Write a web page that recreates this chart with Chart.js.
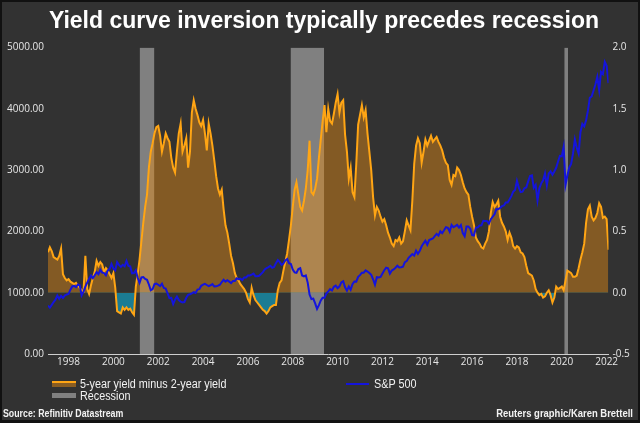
<!DOCTYPE html>
<html>
<head>
<meta charset="utf-8">
<script src="https://cdn.jsdelivr.net/npm/chart.js@4.4.1/dist/chart.umd.min.js"></script>
<style>
  html, body { margin: 0; padding: 0; }
  body { width: 640px; height: 423px; background: #323232; position: relative; overflow: hidden; color: #fff; font-family: "Liberation Sans", Arial, sans-serif; }
  canvas { position: absolute; left: 0; top: 0; }
  #frame { position: absolute; left: 0; top: 0; width: 640px; height: 423px; box-sizing: border-box; border: solid #111; border-width: 2px 2px 3px 2px; pointer-events: none; }
  .title { position: absolute; left: 4px; width: 640px; top: 9px; text-align: center; font-weight: bold; font-size: 23px; line-height: 23px; white-space: nowrap; }
  .leg { position: absolute; font-size: 12px; line-height: 12px; white-space: nowrap; color: #f2f2f2; transform: scaleX(0.9); transform-origin: left center; }
  .sw { position: absolute; }
  .foot { position: absolute; top: 408px; font-weight: bold; font-size: 11px; line-height: 11px; white-space: nowrap; color: #f2f2f2; }
</style>
</head>
<body>
<canvas id="chart" width="640" height="423"></canvas>
<div class="title">Yield curve inversion typically precedes recession</div>
<div class="sw" style="left:52px;top:381px;width:24px;height:4px;border-top:2px solid #ffa514;background:#8a5d22;"></div>
<div class="leg" style="left:80px;top:378px;">5-year yield minus 2-year yield</div>
<div class="sw" style="left:52px;top:393px;width:24px;height:5px;background:#808080;"></div>
<div class="leg" style="left:80px;top:390px;">Recession</div>
<div class="sw" style="left:346px;top:383px;width:23px;height:2px;background:#1414dc;"></div>
<div class="leg" style="left:374px;top:378px;">S&amp;P 500</div>
<div class="foot" style="left:3px;transform:scaleX(0.8);transform-origin:left center;">Source: Refinitiv Datastream</div>
<div class="foot" style="right:7px;transform:scaleX(0.86);transform-origin:right center;">Reuters graphic/Karen Brettell</div>
<div id="frame"></div>
<script>
// monthly series, first value = Feb 1997
const firstMonth = 1997 + 1 / 12;

const spx = [
  790, 757, 801, 848, 885, 954, 899, 947, 915, 955, 970,
  980, 1049, 1102, 1112, 1091, 1134, 1121, 957, 1017, 1099, 1164, 1229,
  1280, 1238, 1286, 1335, 1302, 1373, 1329, 1320, 1283, 1363, 1389, 1469,
  1394, 1366, 1499, 1452, 1421, 1455, 1431, 1518, 1437, 1429, 1315, 1320,
  1366, 1240, 1160, 1249, 1256, 1224, 1211, 1134, 1041, 1060, 1139, 1148,
  1130, 1107, 1147, 1076, 1067, 990, 912, 916, 815, 886, 936, 880,
  856, 841, 848, 917, 964, 975, 990, 1008, 996, 1051, 1058, 1112,
  1131, 1145, 1126, 1107, 1121, 1141, 1102, 1104, 1115, 1130, 1174, 1212,
  1181, 1204, 1181, 1157, 1192, 1191, 1234, 1220, 1229, 1207, 1249, 1248,
  1280, 1281, 1295, 1311, 1270, 1270, 1277, 1304, 1336, 1378, 1401, 1418,
  1438, 1407, 1421, 1482, 1531, 1503, 1455, 1474, 1527, 1549, 1481, 1468,
  1379, 1331, 1323, 1386, 1400, 1280, 1267, 1283, 1165, 969, 896, 903,
  826, 735, 798, 873, 919, 919, 987, 1021, 1057, 1036, 1096, 1115,
  1074, 1104, 1169, 1187, 1089, 1031, 1102, 1049, 1141, 1183, 1181, 1258,
  1286, 1327, 1326, 1364, 1345, 1321, 1292, 1219, 1131, 1253, 1247, 1258,
  1312, 1366, 1408, 1398, 1310, 1362, 1379, 1407, 1441, 1412, 1416, 1426,
  1498, 1515, 1569, 1598, 1631, 1606, 1686, 1633, 1682, 1757, 1806, 1848,
  1783, 1859, 1872, 1884, 1924, 1960, 1931, 2003, 1972, 2018, 2068, 2059,
  1995, 2105, 2068, 2086, 2107, 2063, 2104, 1972, 1920, 2079, 2080, 2044,
  1940, 1932, 2060, 2065, 2097, 2099, 2174, 2171, 2168, 2126, 2199, 2239,
  2279, 2364, 2363, 2384, 2412, 2423, 2470, 2472, 2519, 2575, 2648, 2674,
  2824, 2714, 2641, 2648, 2705, 2718, 2816, 2902, 2914, 2712, 2760, 2507,
  2704, 2784, 2834, 2946, 2752, 2942, 2980, 2926, 2977, 3038, 3141, 3231,
  3226, 3380, 2760, 2912, 3044, 3100, 3271, 3500, 3363, 3270, 3622, 3756,
  3714, 3811, 3973, 4181, 4204, 4298, 4395, 4523, 4308, 4605, 4567, 4766,
  4700, 4420
];

const spread = [
  0.33, 0.37, 0.34, 0.29, 0.28, 0.27, 0.30, 0.36, 0.15, 0.12, 0.10,
  0.11, 0.09, 0.08, 0.07, 0.08, 0.06, 0.04, 0.02, 0.01, 0.30, 0.03, -0.01,
  0.06, 0.12, 0.17, 0.26, 0.22, 0.25, 0.23, 0.17, 0.20, 0.18, 0.15, 0.12,
  0.16, 0.04, -0.15, -0.16, -0.17, -0.12, -0.14, -0.12, -0.14, -0.13, -0.16, -0.18,
  0.05, 0.15, 0.27, 0.42, 0.57, 0.70, 0.80, 1.02, 1.15, 1.22, 1.30, 1.35,
  1.36, 1.28, 1.15, 1.22, 1.30, 1.26, 1.23, 1.10, 1.02, 0.98, 1.15, 1.30,
  1.38, 1.15, 1.20, 1.26, 1.02, 1.15, 1.47, 1.57, 1.50, 1.45, 1.39, 1.36,
  1.41, 1.30, 1.16, 1.38, 1.30, 1.20, 1.08, 0.95, 0.85, 0.80, 0.84, 0.68,
  0.55, 0.49, 0.40, 0.30, 0.24, 0.16, 0.12, 0.10, 0.07, 0.05, 0.03, 0.00,
  -0.05, -0.08, 0.04, -0.02, -0.06, -0.08, -0.10, -0.12, -0.14, -0.15, -0.17, -0.15,
  -0.12, -0.11, -0.10, -0.10, 0.02, 0.08, 0.10, 0.18, 0.25, 0.32, 0.43, 0.55,
  0.70, 0.84, 0.90, 0.80, 0.70, 0.67, 0.75, 0.85, 1.00, 1.24, 0.82, 0.80,
  0.85, 0.93, 1.10, 1.25, 1.40, 1.53, 1.31, 1.50, 1.40, 1.38, 1.46, 1.55,
  1.62, 1.47, 1.55, 1.57, 1.29, 1.15, 0.93, 1.02, 0.82, 0.78, 1.05, 1.37,
  1.45, 1.53, 1.43, 1.49, 1.30, 1.15, 1.00, 0.78, 0.63, 0.70, 0.67, 0.62,
  0.58, 0.60, 0.55, 0.49, 0.45, 0.40, 0.38, 0.43, 0.42, 0.45, 0.40, 0.42,
  0.50, 0.59, 0.55, 0.51, 0.75, 1.05, 1.20, 1.26, 1.22, 1.06, 1.15, 1.25,
  1.20, 1.24, 1.28, 1.23, 1.25, 1.27, 1.23, 1.20, 1.16, 1.10, 1.06, 1.04,
  0.92, 0.88, 0.96, 0.95, 1.02, 1.00, 0.96, 0.90, 0.85, 0.82, 0.80, 0.70,
  0.62, 0.55, 0.45, 0.42, 0.40, 0.37, 0.36, 0.40, 0.43, 0.50, 0.65, 0.74,
  0.70, 0.72, 0.75, 0.62, 0.57, 0.54, 0.50, 0.43, 0.49, 0.45, 0.38, 0.36,
  0.38, 0.37, 0.33, 0.32, 0.29, 0.22, 0.16, 0.15, 0.14, 0.10, 0.03, 0.00,
  -0.02, -0.01, -0.04, -0.03, 0.00, 0.02, -0.02, -0.08, -0.04, 0.05, 0.03, 0.04,
  0.05, 0.02, 0.10, 0.18, 0.17, 0.16, 0.13, 0.13, 0.14, 0.20, 0.27, 0.33,
  0.40, 0.57, 0.68, 0.71, 0.62, 0.59, 0.61, 0.65, 0.73, 0.70, 0.61, 0.62,
  0.60, 0.35
];

const recessionStart = [2001.17, 2007.9, 2020.11];
const recessionEnd = [2001.83, 2009.4, 2020.28];

const xTickYears = [1998, 2000, 2002, 2004, 2006, 2008, 2010, 2012, 2014, 2016, 2018, 2020, 2022];

const monthX = i => firstMonth + i / 12;
const spxPoints = spx.map((v, i) => ({ x: monthX(i), y: v }));
const spreadPoints = spread.map((v, i) => ({ x: monthX(i), y: v }));

const recessionSets = recessionStart.map((s, i) => ({
  label: 'Recession',
  data: [{ x: s, y: 5000 }, { x: recessionEnd[i], y: 5000 }],
  yAxisID: 'y',
  borderWidth: 0,
  pointRadius: 0,
  backgroundColor: 'rgba(200,200,200,0.52)',
  fill: 'start',
  order: 2
}));

const tickFont = { family: 'Open Sans', size: 10 };
const noGrid = { display: false, drawTicks: false, tickLength: 0 };

new Chart(document.getElementById('chart'), {
  type: 'line',
  data: {
    datasets: [
      {
        label: 'S&P 500',
        data: spxPoints,
        yAxisID: 'y',
        borderColor: '#1414dc',
        borderWidth: 2,
        pointRadius: 0,
        fill: false,
        order: 0
      },
      {
        label: '5-year yield minus 2-year yield',
        data: spreadPoints,
        yAxisID: 'y1',
        borderColor: '#ffa514',
        borderWidth: 2,
        pointRadius: 0,
        fill: { target: 'origin', above: 'rgba(230,140,20,0.45)', below: 'rgba(20,150,180,0.75)' },
        order: 1
      },
      ...recessionSets
    ]
  },
  options: {
    responsive: false,
    animation: false,
    layout: { padding: { top: 47.5, bottom: 49, left: 0, right: 0 } },
    plugins: { legend: { display: false }, tooltip: { enabled: false } },
    scales: {
      x: {
        type: 'linear',
        min: firstMonth,
        max: monthX(spx.length - 1),
        grid: noGrid,
        border: { display: true, color: '#cfcfcf', width: 1 },
        ticks: { color: '#e6e6e6', font: tickFont, padding: 2, maxRotation: 0, autoSkip: false, callback: v => String(v) },
        afterBuildTicks: s => { s.ticks = xTickYears.map(v => ({ value: v })); },
        afterFit: s => { s.height = 20; }
      },
      y: {
        position: 'left',
        min: 0,
        max: 5000,
        grid: noGrid,
        border: { display: false },
        ticks: { stepSize: 1000, color: '#e6e6e6', font: tickFont, padding: 4, callback: v => v.toFixed(2) },
        afterFit: s => { s.width = 48; }
      },
      y1: {
        position: 'right',
        min: -0.5,
        max: 2,
        grid: noGrid,
        border: { display: false },
        ticks: { stepSize: 0.5, color: '#e6e6e6', font: tickFont, padding: 4, callback: v => v.toFixed(1) },
        afterFit: s => { s.width = 31.5; }
      }
    }
  }
});
</script>
</body>
</html>
